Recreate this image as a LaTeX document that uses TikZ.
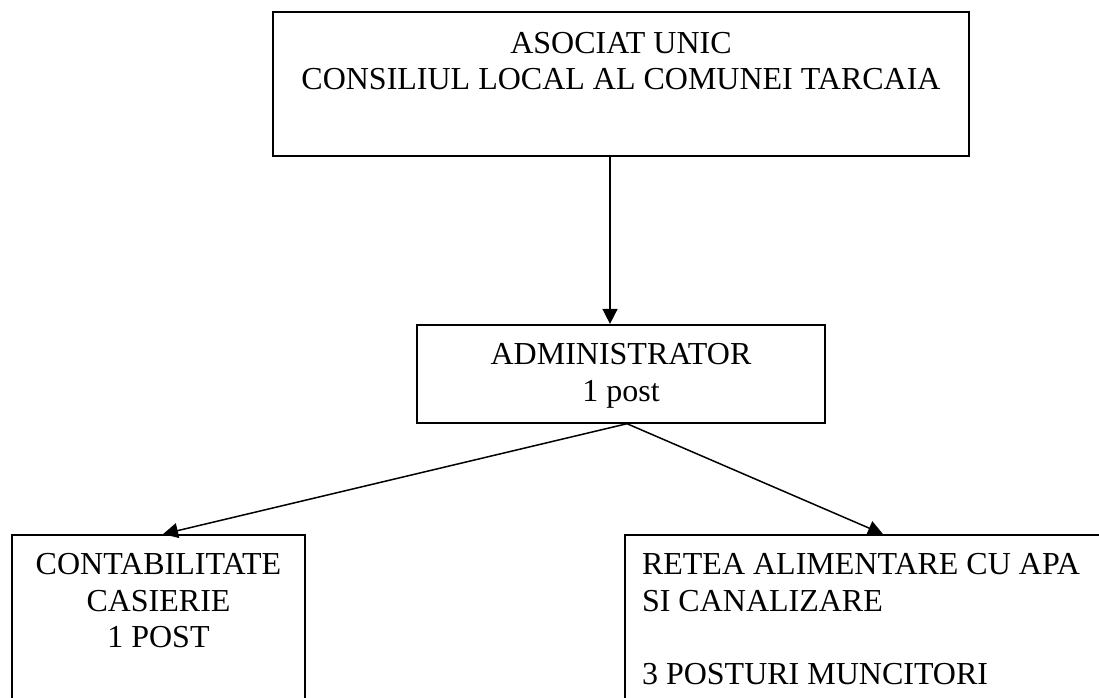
\documentclass[tikz,border=0pt]{standalone}
\usepackage{fontspec}
\setmainfont{Liberation Serif}
\usetikzlibrary{arrows.meta,positioning}

\tikzset{
  orgbox/.style={draw, line width=1.8pt, inner sep=0pt},
  link/.style={->, line width=1.5pt}
}

\begin{document}
\begin{tikzpicture}[x=1pt,y=1pt,>={Triangle[length=15pt,width=15pt]},
    font=\fontsize{32}{36.8}\selectfont]
    \useasboundingbox (0,0) rectangle (1099,-697);
    \clip (0,0) rectangle (1099,-697);

    \node[orgbox] (asociat) at (621,-84)
      {\parbox[c][144pt][t]{696pt}{\centering\vspace*{20pt}ASOCIAT UNIC\\CONSILIUL LOCAL AL COMUNEI TARCAIA}};
    \node[orgbox] (admin) [below=167pt of asociat]
      {\parbox[c][98pt][t]{408pt}{\centering\vspace*{19pt}ADMINISTRATOR\\1 post}};
    \node[orgbox] (contab) at (158.5,-635)
      {\parbox[c][200pt][t]{293pt}{\centering\vspace*{18pt}CONTABILITATE\\CASIERIE\\1 POST}};
    \node[orgbox] (retea) at (865,-635)
      {\parbox[c][200pt][t]{480pt}{\raggedright\vspace*{18pt}\hspace*{17pt}RETEA ALIMENTARE CU APA\\
        \hspace*{17pt}SI CANALIZARE\\ \mbox{}\\ \hspace*{17pt}3 POSTURI MUNCITORI}};

    \draw[link] ([xshift=-11pt]asociat.south) -- ([xshift=-11pt]admin.north);
    \draw[link] ([xshift=6pt]admin.south) -- ([xshift=4.5pt]contab.north);
    \draw[link] ([xshift=6pt]admin.south) -- ([xshift=18pt]retea.north);

\end{tikzpicture}
\end{document}
